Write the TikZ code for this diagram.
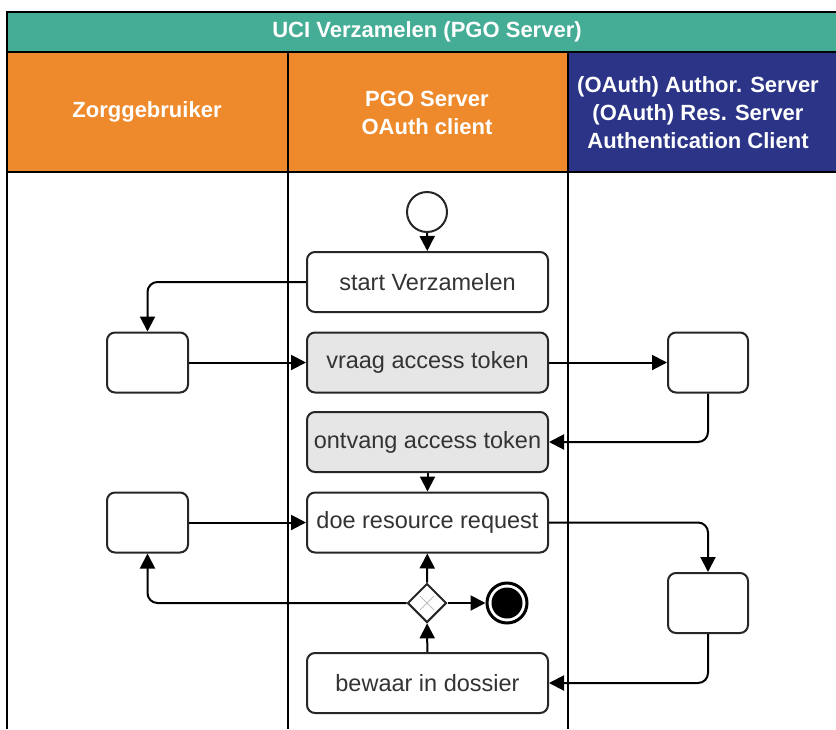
\documentclass[tikz,border=0pt]{standalone}
\usepackage{fontspec}
\setmainfont{Liberation Sans}
\usetikzlibrary{arrows.meta, positioning, shapes.geometric}

\definecolor{titleteal}{HTML}{45AD95}
\definecolor{laneorange}{HTML}{EE8A2C}
\definecolor{lanenavy}{HTML}{2B3486}
\definecolor{taskgray}{HTML}{E6E6E6}
\definecolor{textgray}{HTML}{333333}

\begin{document}
\begin{tikzpicture}[x=1pt,y=-1pt,line width=2pt,
    >={Triangle[length=15pt,width=15pt]},
    flow/.style={->,rounded corners=10pt},
    lane head/.style={text=white,font=\bfseries\fontsize{22}{28}\selectfont,align=center},
    task node/.style={rectangle,rounded corners=8pt,draw=black!85,fill=white,minimum width=241pt,minimum height=60pt,
        text=textgray,font=\fontsize{23.5}{28}\selectfont,inner sep=0pt},
    grey task/.style={task node,fill=taskgray},
    empty node/.style={rectangle,rounded corners=8pt,draw=black!85,fill=white,minimum width=81pt,minimum height=60pt},
    gate node/.style={diamond,draw=black!85,fill=white,minimum size=39pt,inner sep=0pt},
    base node/.style={circle,draw=black!85,fill=white,minimum size=40pt,inner sep=0pt}]
\useasboundingbox (0,0) rectangle (836,729);

% lanes
\fill[titleteal] (7,12) rectangle (836,52);
\fill[laneorange] (7,52) rectangle (568,172);
\fill[lanenavy] (568,52) rectangle (836,172);
\draw (836,12) -- (7,12) -- (7,729);
\draw (7,52) -- (836,52);
\draw (7,172) -- (836,172);
\draw (288,52) -- (288,729);
\draw (568,52) -- (568,729);

\node[lane head] (title) at (427,32) {UCI Verzamelen (PGO Server)};
\node[lane head] (zorg) at (147,112) {Zorggebruiker};
\node[lane head] (pgo) at (427,113) {PGO Server\\OAuth client};
\node[lane head] (oauth) at (698,113) {(OAuth) Author. Server\\(OAuth) Res. Server\\Authentication Client};

% activities
\node[base node] (start) at (427,212) {};
\node[task node] (startv) at (427.5,282) {start Verzamelen};
\node[grey task] (vraag) at (427.5,362.5) {vraag access token};
\node[grey task] (ontvang) at (427.5,442) {ontvang access token};
\node[task node] (doe) at (427.5,522.5) {doe resource request};
\node[gate node] (gate) at (427,603) {};
\node[base node,minimum size=40pt,line width=3pt,draw=black] (end) at (507,603) {};
\node[task node] (bewaar) at (427.5,683) {bewaar in dossier};

\node[empty node] (zorg1) at (147.5,362.5) {};
\node[empty node] (zorg2) at (147.5,522.5) {};
\node[empty node,minimum width=80pt] (auth1) at (708,362.5) {};
\node[empty node,minimum width=80pt] (auth2) at (708,603) {};

\fill (end.center) circle (15.5);
\draw[black!25,line width=1pt] ([shift={(-7,-7)}]gate.center) -- ([shift={(7,7)}]gate.center)
    ([shift={(-7,7)}]gate.center) -- ([shift={(7,-7)}]gate.center);

% flows
\draw[flow] (start) -- (startv);
\draw[flow] (startv.west) -| (zorg1.north);
\draw[flow] (zorg1) -- (vraag);
\draw[flow] (vraag) -- (auth1);
\draw[flow] (auth1.south) |- (ontvang.east);
\draw[flow] (ontvang) -- (doe);
\draw[flow] (zorg2) -- (doe);
\draw[flow] (doe.east) -| (auth2.north);
\draw[flow] (auth2.south) |- (bewaar.east);
\draw[flow] (bewaar) -- (gate);
\draw[flow] (gate) -- (doe);
\draw[flow] (gate) -- (end);
\draw[flow] (gate.west) -| (zorg2.south);
\end{tikzpicture}
\end{document}
